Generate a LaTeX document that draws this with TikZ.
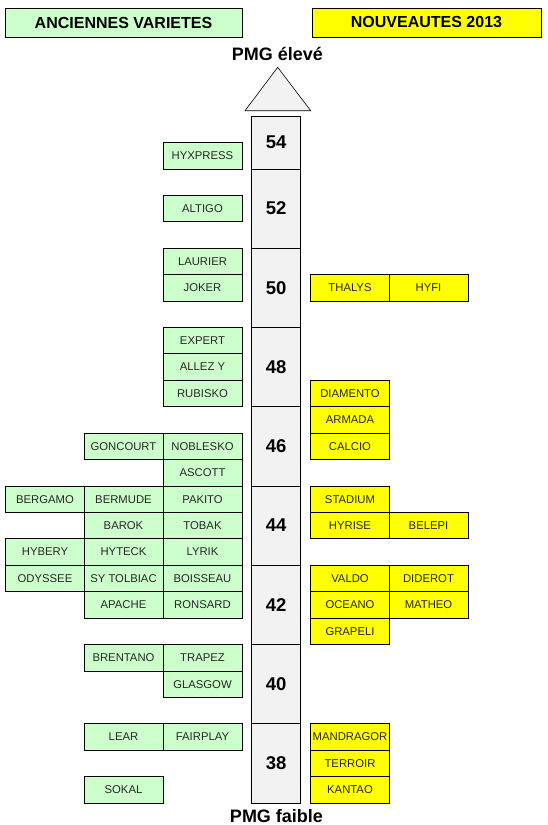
\documentclass[tikz,border=0pt]{standalone}
\usepackage{fontspec}
\setmainfont{Liberation Sans}
\definecolor{vgreen}{HTML}{CCFFCC}
\definecolor{vyellow}{HTML}{FFFF00}
\definecolor{vgray}{HTML}{F2F2F2}
\tikzset{
  vbox/.style={draw=black, line width=0.8pt, minimum width=79pt, minimum height=26.42pt,
    inner sep=0pt, font=\fontsize{11.3}{13}\selectfont, text=black!85},
  oldv/.style={vbox, fill=vgreen},
  newv/.style={vbox, fill=vyellow},
  cell/.style={draw=black, line width=0.8pt, fill=vgray, minimum width=49pt, inner sep=0pt,
    font=\fontsize{18.5}{20}\selectfont\bfseries},
  hdr/.style={draw=black, line width=0.8pt, inner sep=0pt, font=\fontsize{16}{18}\selectfont\bfseries},
  pmg/.style={font=\fontsize{18}{20}\selectfont\bfseries, inner sep=0pt}
}
\begin{document}
\begin{tikzpicture}[x=1pt, y=-1pt]
\useasboundingbox (0,0) rectangle (548,825);
% headers
\node[hdr, fill=vgreen, minimum width=237pt, minimum height=29pt] (hleft) at (123.5,22.5) {ANCIENNES VARIETES};
\node[hdr, fill=vyellow, minimum width=229pt, minimum height=29pt] (hright) at (426.5,22.5) {NOUVEAUTES 2013};
\node[pmg, anchor=base] (top) at (277.5,60) {PMG élevé};
\node[pmg, anchor=base] (bottom) at (276.5,822.5) {PMG faible};
% arrow head
\draw[line width=0.6pt, fill=vgray] (245,110.7) -- (277.7,67.3) -- (310.7,110.7) -- cycle;
% column
\node[cell, minimum height=52.84pt] (c54) at (276.2,{803-26.42*25}) {54};
\foreach \v/\r in {52/22.5, 50/19.5, 48/16.5, 46/13.5, 44/10.5, 42/7.5, 40/4.5, 38/1.5}
  \node[cell, minimum height=79.26pt] (c\v) at (276.2,{803-26.42*\r}) {\v};
% old varieties: name / x / row
\foreach \n/\x/\r [count=\i] in {
  HYXPRESS/202.5/24, ALTIGO/202.5/22, LAURIER/202.5/20, JOKER/202.5/19,
  EXPERT/202.5/17, ALLEZ Y/202.5/16, RUBISKO/202.5/15,
  GONCOURT/123.5/13, NOBLESKO/202.5/13, ASCOTT/202.5/12,
  BERGAMO/45/11, BERMUDE/123.5/11, PAKITO/202.5/11,
  BAROK/123.5/10, TOBAK/202.5/10,
  HYBERY/45/9, HYTECK/123.5/9, LYRIK/202.5/9,
  ODYSSEE/45/8, SY TOLBIAC/123.5/8, BOISSEAU/202.5/8,
  APACHE/123.5/7, RONSARD/202.5/7,
  BRENTANO/123.5/5, TRAPEZ/202.5/5, GLASGOW/202.5/4,
  LEAR/123.5/2, FAIRPLAY/202.5/2, SOKAL/123.5/0}
  \node[oldv] (old\i) at (\x,{803-26.42*(\r+0.5)}) {\n};
% new varieties
\foreach \n/\x/\r [count=\i] in {
  THALYS/350/19, HYFI/428.5/19,
  DIAMENTO/350/15, ARMADA/350/14, CALCIO/350/13,
  STADIUM/350/11, HYRISE/350/10, BELEPI/428.5/10,
  VALDO/350/8, DIDEROT/428.5/8, OCEANO/350/7, MATHEO/428.5/7, GRAPELI/350/6,
  MANDRAGOR/350/2, TERROIR/350/1, KANTAO/350/0}
  \node[newv] (new\i) at (\x,{803-26.42*(\r+0.5)}) {\n};
\end{tikzpicture}
\end{document}
